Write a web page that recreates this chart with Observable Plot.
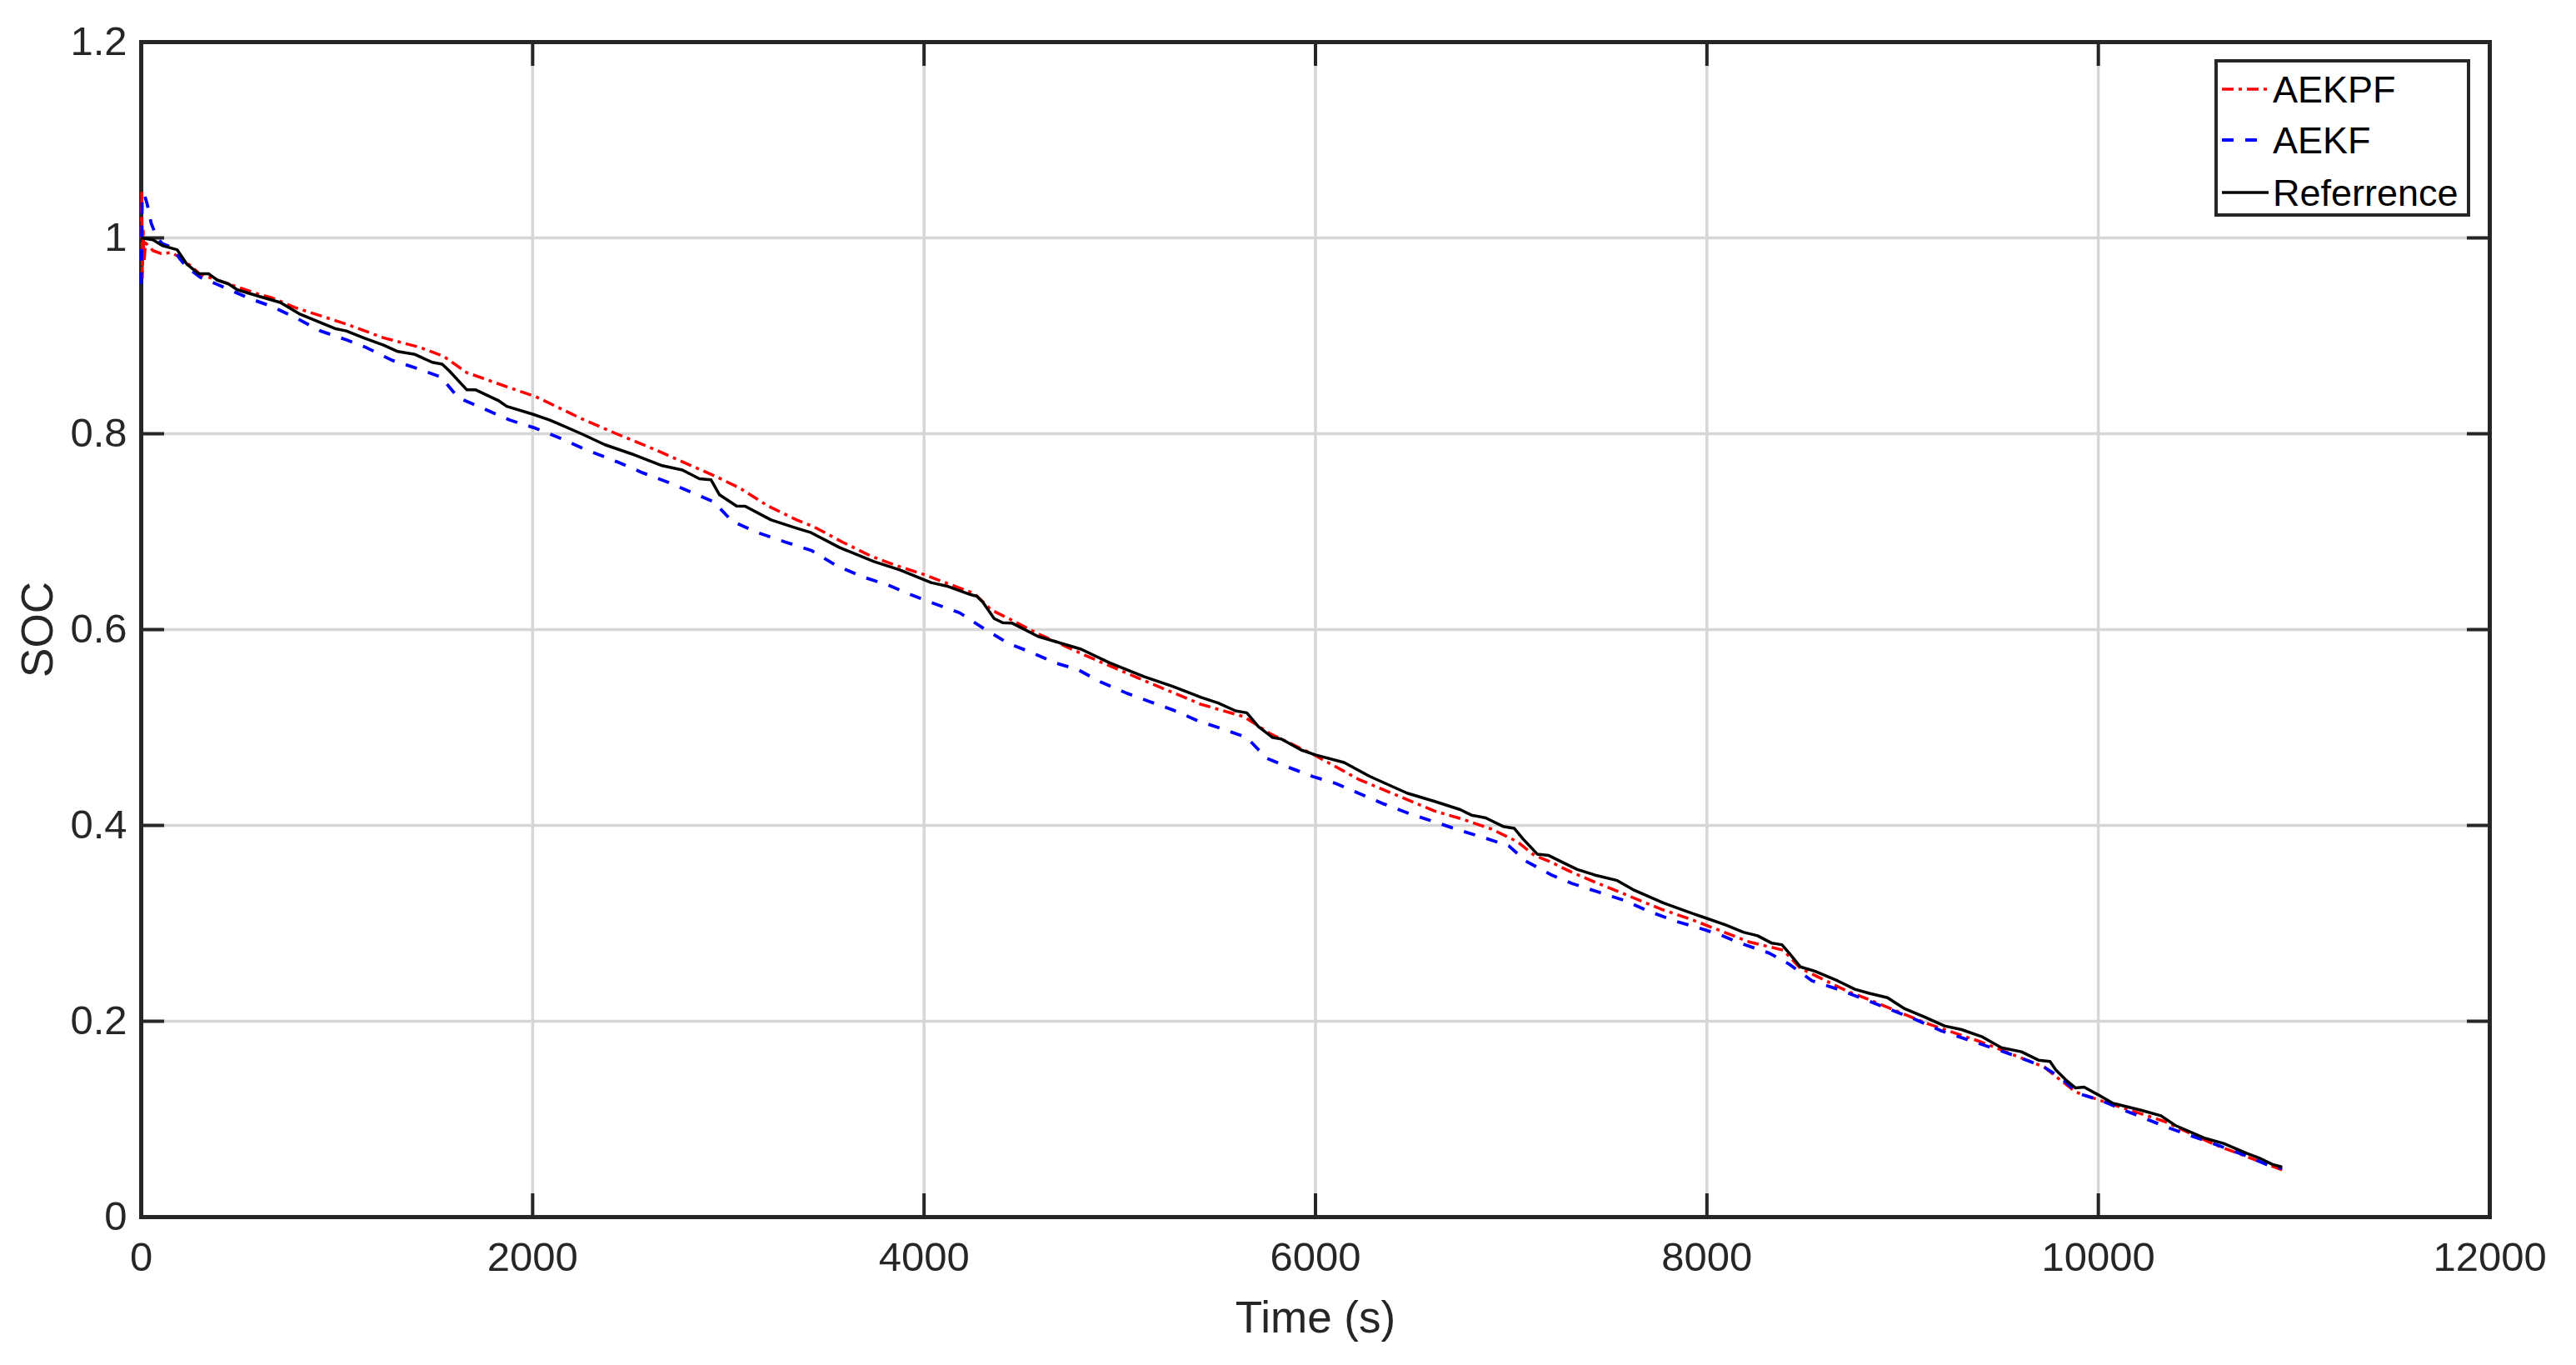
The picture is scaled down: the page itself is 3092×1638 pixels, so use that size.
<!DOCTYPE html>
<html>
<head>
<meta charset="utf-8">
<script src="https://cdn.jsdelivr.net/npm/d3@7"></script>
<script src="https://cdn.jsdelivr.net/npm/@observablehq/plot@0.6"></script>
<style>
  html, body { margin: 0; padding: 0; background: #fff; }
  #wrap { position: relative; width: 3092px; height: 1638px; }
  #legend { position: absolute; left: 2658px; top: 71px; }
</style>
</head>
<body>
<div id="wrap"></div>
<script>
// ---- data ----
const xTicks = [0, 2000, 4000, 6000, 8000, 10000, 12000];
const yTicks = [0, 0.2, 0.4, 0.6, 0.8, 1.0, 1.2];
const seriesNames = ["AEKPF", "AEKF", "Referrence"];

const timeAEKPF = [0, 3, 6, 10, 15, 22, 60, 103, 154, 198, 256, 300, 447, 608, 667, 784, 1048, 1238, 1428, 1546, 1663, 1868, 2015, 2249, 2428, 2619, 2794, 2925, 3057, 3203, 3349, 3437, 3583, 3729, 3861, 3993, 4124, 4256, 4344, 4460, 4583, 4831, 5094, 5416, 5635, 5766, 6000, 6219, 6438, 6607, 6753, 6899, 7031, 7119, 7192, 7309, 7426, 7601, 7776, 7922, 8069, 8215, 8390, 8478, 8580, 8726, 8821, 9112, 9403, 9723, 9884, 10073, 10335, 10597, 10939];
const socAEKPF  = [1.0, 1.049, 0.958, 1.01, 0.975, 0.995, 0.987, 0.984, 0.985, 0.980, 0.971, 0.963, 0.953, 0.942, 0.939, 0.929, 0.912, 0.898, 0.888, 0.879, 0.8625, 0.848, 0.838, 0.8155, 0.800, 0.7844, 0.7688, 0.7574, 0.7447, 0.7262, 0.712, 0.705, 0.6894, 0.675, 0.6652, 0.6567, 0.6468, 0.637, 0.620, 0.6085, 0.5958, 0.573, 0.5505, 0.5236, 0.511, 0.494, 0.4713, 0.4472, 0.4289, 0.4148, 0.4063, 0.3963, 0.3835, 0.3693, 0.3636, 0.3522, 0.3423, 0.328, 0.3138, 0.3038, 0.2925, 0.2811, 0.2726, 0.2541, 0.2441, 0.2299, 0.2227, 0.1986, 0.1787, 0.1532, 0.1277, 0.1149, 0.0979, 0.0738, 0.0482];

const timeAEKF = [0, 5, 15, 30, 51, 80, 110, 160, 200, 234, 300, 418, 549, 667, 784, 916, 1048, 1150, 1282, 1414, 1531, 1619, 1751, 1883, 2015, 2147, 2257, 2428, 2560, 2692, 2809, 2925, 3020, 3145, 3291, 3423, 3554, 3686, 3817, 3934, 4066, 4183, 4314, 4431, 4539, 4671, 4787, 4904, 5036, 5153, 5270, 5401, 5533, 5649, 5752, 5854, 5985, 6102, 6219, 6351, 6482, 6610, 6739, 6856, 6987, 7075, 7206, 7309, 7440, 7572, 7703, 7835, 7937, 8069, 8171, 8317, 8420, 8537, 8668, 8810, 9054, 9200, 9432, 9578, 9723, 9811, 9898, 10015, 10131, 10364, 10626, 10757, 10873, 10939];
const socAEKF  = [0.953, 1.04, 1.045, 1.035, 1.015, 1.0, 0.994, 0.990, 0.978, 0.970, 0.960, 0.950, 0.9385, 0.930, 0.919, 0.905, 0.896, 0.888, 0.875, 0.8665, 0.858, 0.837, 0.8255, 0.814, 0.8056, 0.795, 0.785, 0.7716, 0.7603, 0.7504, 0.7404, 0.7305, 0.7106, 0.6993, 0.6894, 0.6809, 0.6652, 0.6539, 0.6454, 0.6355, 0.6255, 0.617, 0.600, 0.5858, 0.5774, 0.566, 0.559, 0.5463, 0.535, 0.5264, 0.518, 0.5067, 0.498, 0.4897, 0.4685, 0.460, 0.450, 0.443, 0.433, 0.4218, 0.4119, 0.4035, 0.3949, 0.3878, 0.3792, 0.3636, 0.3494, 0.3408, 0.3323, 0.3238, 0.3124, 0.3024, 0.2967, 0.2882, 0.2797, 0.2697, 0.2584, 0.2413, 0.2327, 0.2220, 0.2028, 0.190, 0.1745, 0.1645, 0.1532, 0.1418, 0.1262, 0.1191, 0.1092, 0.0908, 0.0723, 0.0624, 0.0525, 0.0496];

const timeRef = [0, 60, 110, 183, 234, 293, 344, 388, 447, 491, 608, 711, 813, 989, 1048, 1136, 1238, 1311, 1399, 1487, 1538, 1575, 1663, 1707, 1824, 1868, 2000, 2088, 2249, 2370, 2516, 2662, 2765, 2852, 2911, 2955, 3042, 3086, 3218, 3349, 3423, 3569, 3744, 3876, 4036, 4124, 4241, 4270, 4300, 4358, 4402, 4451, 4583, 4802, 4948, 5123, 5270, 5416, 5503, 5591, 5649, 5708, 5781, 5825, 5927, 6000, 6146, 6278, 6468, 6610, 6739, 6797, 6870, 6958, 7016, 7060, 7133, 7192, 7265, 7338, 7426, 7542, 7630, 7776, 7893, 7996, 8098, 8186, 8259, 8332, 8383, 8420, 8478, 8551, 8668, 8756, 8830, 8923, 9010, 9112, 9214, 9301, 9403, 9505, 9607, 9694, 9753, 9782, 9840, 9884, 9927, 10000, 10073, 10218, 10320, 10393, 10539, 10640, 10757, 10830, 10888, 10939];
const socRef  = [1.0, 0.998, 0.992, 0.988, 0.973, 0.9635, 0.9635, 0.957, 0.953, 0.947, 0.940, 0.934, 0.922, 0.9075, 0.905, 0.898, 0.8905, 0.884, 0.881, 0.873, 0.871, 0.864, 0.845, 0.845, 0.834, 0.828, 0.820, 0.814, 0.800, 0.7887, 0.7787, 0.7674, 0.763, 0.754, 0.753, 0.7376, 0.7262, 0.726, 0.712, 0.7035, 0.699, 0.6837, 0.6695, 0.661, 0.648, 0.644, 0.6355, 0.634, 0.628, 0.6113, 0.607, 0.6065, 0.593, 0.580, 0.566, 0.552, 0.542, 0.5307, 0.525, 0.517, 0.515, 0.501, 0.4897, 0.4883, 0.477, 0.472, 0.4642, 0.450, 0.433, 0.4245, 0.4162, 0.4105, 0.4077, 0.399, 0.397, 0.3863, 0.3707, 0.3693, 0.362, 0.355, 0.3494, 0.3437, 0.3337, 0.321, 0.3124, 0.3053, 0.2982, 0.291, 0.2873, 0.2797, 0.2782, 0.2697, 0.2555, 0.2512, 0.2413, 0.2327, 0.2285, 0.2241, 0.2128, 0.2043, 0.1952, 0.1915, 0.1844, 0.173, 0.1688, 0.1603, 0.1589, 0.1504, 0.139, 0.1319, 0.1328, 0.1248, 0.1163, 0.1092, 0.1035, 0.0936, 0.0809, 0.0752, 0.0652, 0.0596, 0.0539, 0.0511];

// ---- styles ----
const FONT = "'Liberation Sans', Arial, Helvetica, sans-serif";
const AX = "#262626";
const colors = {AEKPF: "#ff0000", AEKF: "#0000ff", Referrence: "#000000"};
const dashes = {AEKPF: "14,6,4,6", AEKF: "14,14", Referrence: null};
const widths = {AEKPF: 3.5, AEKF: 3.8, Referrence: 3.5};

const toRows = (ts, vs) => ts.map((t, i) => ({t, soc: vs[i]}));
const data = {
  AEKPF: toRows(timeAEKPF, socAEKPF),
  AEKF: toRows(timeAEKF, socAEKF),
  Referrence: toRows(timeRef, socRef)
};

const fmtY = d => String(+(+d).toFixed(2));
const fmtX = d => String(d);
const blank = () => "";
const TS = 28;

const chart = Plot.plot({
  width: 3092,
  height: 1638,
  marginLeft: 169,
  marginRight: 104,
  marginTop: 50,
  marginBottom: 178,
  x: {domain: [0, 12000]},
  y: {domain: [0, 1.2]},
  style: {fontFamily: FONT, background: "#fff", color: AX, overflow: "visible"},
  marks: [
    Plot.gridX(xTicks, {stroke: "#d6d6d6", strokeOpacity: 1, strokeWidth: 3.5}),
    Plot.gridY(yTicks, {stroke: "#d6d6d6", strokeOpacity: 1, strokeWidth: 3.5}),
    Plot.frame({stroke: AX, strokeWidth: 5}),
    // tick labels
    Plot.axisX({ticks: xTicks, anchor: "bottom", tickSize: 0, tickPadding: 30, tickFormat: fmtX, fontSize: 49, fill: AX, label: null}),
    Plot.axisY({ticks: yTicks, anchor: "left", tickSize: 0, tickPadding: 17, tickFormat: fmtY, fontSize: 49, fill: AX, label: null}),
    // inward ticks on all four sides
    Plot.axisX({ticks: xTicks, anchor: "bottom", tickSize: TS, dy: -TS, tickFormat: blank, stroke: AX, strokeWidth: 4, label: null}),
    Plot.axisX({ticks: xTicks, anchor: "top", tickSize: TS, dy: TS, tickFormat: blank, stroke: AX, strokeWidth: 4, label: null}),
    Plot.axisY({ticks: yTicks, anchor: "left", tickSize: TS, dx: TS, tickFormat: blank, stroke: AX, strokeWidth: 4, label: null}),
    Plot.axisY({ticks: yTicks, anchor: "right", tickSize: TS, dx: -TS, tickFormat: blank, stroke: AX, strokeWidth: 4, label: null}),
    // series (drawn above the box, as in the reference)
    ...seriesNames.map(name => Plot.line(data[name], {
      x: "t", y: "soc", stroke: colors[name], strokeWidth: widths[name],
      strokeDasharray: dashes[name], strokeLinejoin: "round", strokeLinecap: "butt"
    })),
    // axis titles
    Plot.text(["Time (s)"], {text: d => d, frameAnchor: "bottom", dy: 138, lineAnchor: "bottom", textAnchor: "middle", fontSize: 53, fill: AX}),
    Plot.text(["SOC"], {text: d => d, frameAnchor: "left", dx: -107, rotate: -90, lineAnchor: "bottom", textAnchor: "middle", fontSize: 53, fill: AX})
  ]
});

const wrap = document.getElementById("wrap");
wrap.appendChild(chart);

// ---- legend (inside the axes, top right) ----
const L = d3.select(wrap).append("svg")
  .attr("id", "legend")
  .attr("width", 307).attr("height", 189)
  .style("font-family", FONT);
L.append("rect").attr("x", 2).attr("y", 2).attr("width", 303).attr("height", 185)
  .attr("fill", "#fff").attr("stroke", AX).attr("stroke-width", 4);
const rowY = [36, 97, 160];
seriesNames.forEach((name, i) => {
  L.append("line").attr("x1", 9).attr("x2", 65).attr("y1", rowY[i]).attr("y2", rowY[i])
    .attr("stroke", colors[name]).attr("stroke-width", widths[name])
    .attr("stroke-dasharray", dashes[name]);
  L.append("text").attr("x", 70).attr("y", rowY[i]).attr("dy", "0.36em")
    .attr("font-size", 45).attr("fill", "#000").text(name);
});
</script>
</body>
</html>
